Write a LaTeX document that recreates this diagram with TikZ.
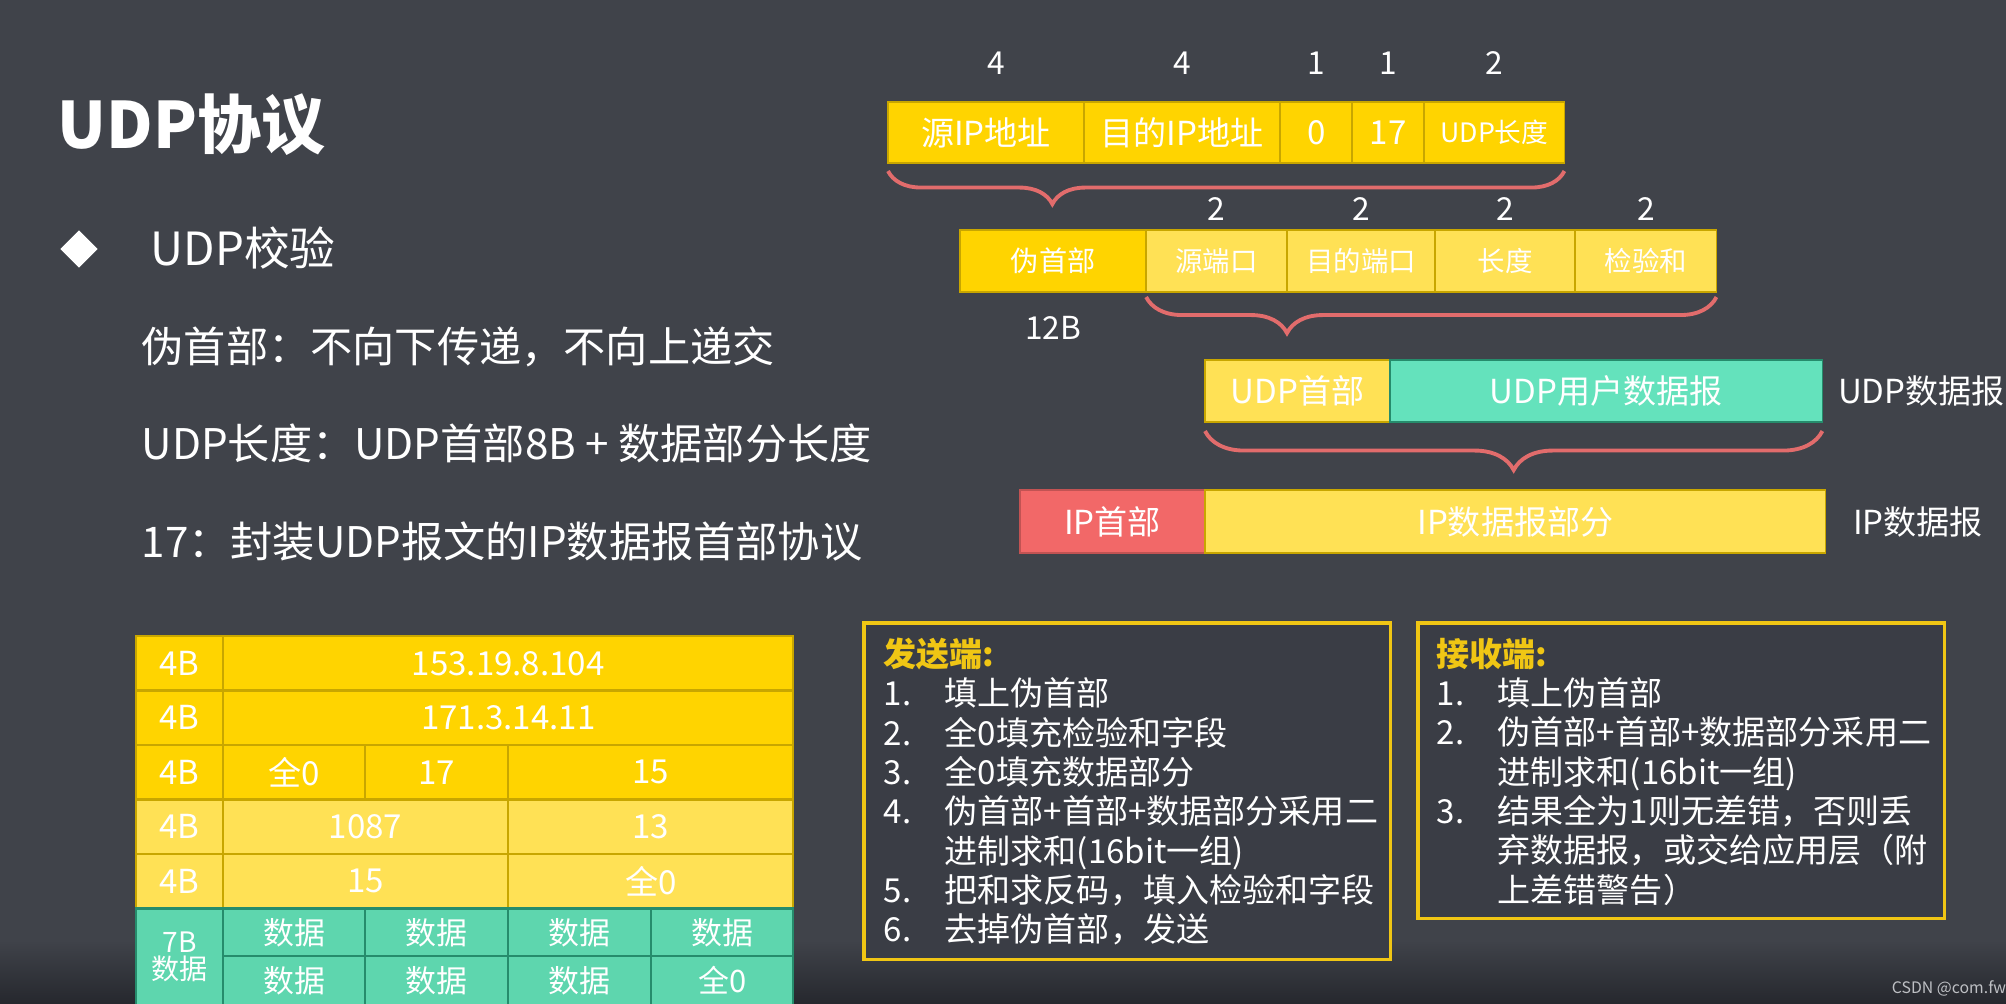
\documentclass[tikz,border=0pt]{standalone}
\usepackage{fontspec}
\setmainfont{Noto Sans CJK SC}
\usepackage{tikz}
\usetikzlibrary{positioning}
\usetikzlibrary{shapes.geometric}
\usetikzlibrary{decorations.pathreplacing}

\definecolor{bgslate}{RGB}{64,67,74}
\definecolor{bgdark}{RGB}{38,40,46}
\definecolor{gold}{RGB}{255,212,0}
\definecolor{lightgold}{RGB}{255,225,85}
\definecolor{mint}{RGB}{100,226,188}
\definecolor{tablemint}{RGB}{94,214,174}
\definecolor{salmon}{RGB}{242,104,104}
\definecolor{bracered}{RGB}{226,108,108}
\definecolor{goldline}{RGB}{200,166,0}
\definecolor{mintline}{RGB}{38,140,108}
\definecolor{hdrgold}{RGB}{240,198,20}
\definecolor{panelfill}{RGB}{58,61,69}
\definecolor{csdngray}{RGB}{190,192,196}

\newcommand{\stepline}[2]{\makebox[0.61cm][l]{#1}#2}
\newcommand{\contline}[1]{\hspace*{0.61cm}#1}

\begin{document}
\begin{tikzpicture}[x=0.01cm,y=-0.01cm,
    field/.style={draw=goldline,line width=0.5pt,inner sep=0pt,outer sep=0pt,anchor=north west,text=white,font=\fontsize{9.4pt}{11pt}\selectfont},
    num/.style={inner sep=0pt,text=white,font=\fontsize{9pt}{11pt}\selectfont},
    side/.style={inner sep=0pt,anchor=west,text=white,font=\fontsize{9.4pt}{11pt}\selectfont},
    body/.style={inner sep=0pt,anchor=west,text=white,font=\fontsize{12pt}{14pt}\selectfont},
    cell/.style={draw=goldline,line width=0.6pt,inner sep=0pt,outer sep=0pt,anchor=north west,minimum height=0.545cm,text=white,font=\fontsize{9.4pt}{11pt}\selectfont},
    mintcell/.style={cell,draw=mintline,fill=tablemint,minimum height=0.475cm,font=\fontsize{8.8pt}{10pt}\selectfont},
    brace/.style={draw=bracered,line width=1.1pt,decorate},
    panel/.style={draw=hdrgold,line width=0.9pt,fill=panelfill,inner sep=0pt,outer sep=0pt,anchor=north west},
    steps/.style={inner sep=0pt,anchor=north west,align=left,text=white,font=\fontsize{9.4pt}{11.2pt}\selectfont}]

  \useasboundingbox (0,0) rectangle (2006,1003);
  \fill[bgslate] (0,0) rectangle (2006,1003);
  \shade[top color=bgslate,bottom color=bgdark] (0,940) rectangle (2006,1003);

  \node[inner sep=0pt,anchor=west,text=white,font=\fontsize{18.2pt}{20pt}\selectfont\bfseries] (title) at (57,125) {UDP协议};
  \node[diamond,fill=white,inner sep=0pt,minimum width=0.38cm,minimum height=0.38cm] (bullet) at (79,249) {};
  \node[inner sep=0pt,anchor=west,text=white,font=\fontsize{13pt}{15pt}\selectfont] (check) at (150,248) {UDP校验};
  \node[body] (note1) at (141,347) {伪首部：不向下传递，不向上递交};
  \node[body] (note2) at (141,443) {UDP长度：UDP首部8B + 数据部分长度};
  \node[body] (note3) at (141,541) {17：封装UDP报文的IP数据报首部协议};

  \node[field,fill=gold,minimum width=1.96cm,minimum height=0.61cm] (srcip) at (888,102) {源IP地址};
  \node[field,fill=gold,minimum width=1.96cm,minimum height=0.61cm,right=0pt of srcip] (dstip) {目的IP地址};
  \node[field,fill=gold,minimum width=0.72cm,minimum height=0.61cm,right=0pt of dstip] (zero) {0};
  \node[field,fill=gold,minimum width=0.72cm,minimum height=0.61cm,right=0pt of zero] (proto) {17};
  \node[field,fill=gold,minimum width=1.40cm,minimum height=0.61cm,right=0pt of proto,font=\fontsize{7.6pt}{9pt}\selectfont] (udplen) {UDP长度};

  \node[num,above=0.27cm of srcip,xshift=0.1cm] (w1) {4};
  \node[num,above=0.27cm of dstip] (w2) {4};
  \node[num,above=0.27cm of zero] (w3) {1};
  \node[num,above=0.27cm of proto] (w4) {1};
  \node[num,above=0.27cm of udplen] (w5) {2};

  \draw[brace,decoration={brace,mirror,amplitude=0.33cm,aspect=0.243}] ([yshift=-0.08cm]srcip.south west) -- ([yshift=-0.08cm]udplen.south east);

  \node[field,fill=gold,minimum width=1.86cm,minimum height=0.62cm,font=\fontsize{8pt}{10pt}\selectfont] (pseudo) at (960,230) {伪首部};
  \node[field,fill=lightgold,minimum width=1.41cm,minimum height=0.62cm,right=0pt of pseudo,font=\fontsize{7.8pt}{10pt}\selectfont] (srcport) {源端口};
  \node[field,fill=lightgold,minimum width=1.48cm,minimum height=0.62cm,right=0pt of srcport,font=\fontsize{7.8pt}{10pt}\selectfont] (dstport) {目的端口};
  \node[field,fill=lightgold,minimum width=1.40cm,minimum height=0.62cm,right=0pt of dstport,font=\fontsize{7.8pt}{10pt}\selectfont] (len) {长度};
  \node[field,fill=lightgold,minimum width=1.41cm,minimum height=0.62cm,right=0pt of len,font=\fontsize{7.8pt}{10pt}\selectfont] (csum) {检验和};

  \node[num,above=0.09cm of srcport] (v1) {2};
  \node[num,above=0.09cm of dstport] (v2) {2};
  \node[num,above=0.09cm of len] (v3) {2};
  \node[num,above=0.09cm of csum] (v4) {2};
  \node[num,below=0.24cm of pseudo] (pseudolen) {12B};

  \draw[brace,decoration={brace,mirror,amplitude=0.36cm,aspect=0.247}] ([yshift=-0.05cm]srcport.south west) -- ([yshift=-0.05cm]csum.south east);

  \node[field,fill=lightgold,minimum width=1.85cm,minimum height=0.62cm] (udphdr) at (1205,360) {UDP首部};
  \node[field,fill=mint,draw=mintline,minimum width=4.32cm,minimum height=0.62cm,right=0pt of udphdr] (udpdata) {UDP用户数据报};
  \node[side,right=0.15cm of udpdata] (udpdg) {UDP数据报};

  \draw[brace,decoration={brace,mirror,amplitude=0.39cm,aspect=0.5}] ([yshift=-0.09cm]udphdr.south west) -- ([yshift=-0.09cm]udpdata.south east);

  \node[field,fill=salmon,draw=salmon!80!black,minimum width=1.85cm,minimum height=0.63cm] (iphdr) at (1020,490) {IP首部};
  \node[field,fill=lightgold,minimum width=6.20cm,minimum height=0.63cm,right=0pt of iphdr] (ipdata) {IP数据报部分};
  \node[side,right=0.27cm of ipdata] (ipdg) {IP数据报};

  \node[cell,fill=gold,minimum width=0.87cm] (r1a) at (136,636) {4B};
  \node[cell,fill=gold,minimum width=5.70cm,right=0pt of r1a] (r1b) {153.19.8.104};
  \node[cell,fill=gold,minimum width=0.87cm] (r2a) at (136,690.5) {4B};
  \node[cell,fill=gold,minimum width=5.70cm,right=0pt of r2a] (r2b) {171.3.14.11};
  \node[cell,fill=gold,minimum width=0.87cm] (r3a) at (136,745) {4B};
  \node[cell,fill=gold,minimum width=1.42cm,right=0pt of r3a] (r3b) {全0};
  \node[cell,fill=gold,minimum width=1.43cm,right=0pt of r3b] (r3c) {17};
  \node[cell,fill=gold,minimum width=2.85cm,right=0pt of r3c] (r3d) {15};
  \node[cell,fill=lightgold,minimum width=0.87cm] (r4a) at (136,799.5) {4B};
  \node[cell,fill=lightgold,minimum width=2.85cm,right=0pt of r4a] (r4b) {1087};
  \node[cell,fill=lightgold,minimum width=2.85cm,right=0pt of r4b] (r4c) {13};
  \node[cell,fill=lightgold,minimum width=0.87cm] (r5a) at (136,854) {4B};
  \node[cell,fill=lightgold,minimum width=2.85cm,right=0pt of r5a] (r5b) {15};
  \node[cell,fill=lightgold,minimum width=2.85cm,right=0pt of r5b] (r5c) {全0};

  \node[mintcell,minimum width=0.87cm,minimum height=0.96cm,align=center,font=\fontsize{8pt}{7.7pt}\selectfont] (r6a) at (136,908.5) {7B\\数据};
  \node[mintcell,minimum width=1.42cm] (r6b) at (223,908.5) {数据};
  \node[mintcell,minimum width=1.43cm,right=0pt of r6b] (r6c) {数据};
  \node[mintcell,minimum width=1.43cm,right=0pt of r6c] (r6d) {数据};
  \node[mintcell,minimum width=1.42cm,right=0pt of r6d] (r6e) {数据};
  \node[mintcell,minimum width=1.42cm,minimum height=0.49cm] (r7b) at (223,956) {数据};
  \node[mintcell,minimum width=1.43cm,minimum height=0.49cm,right=0pt of r7b] (r7c) {数据};
  \node[mintcell,minimum width=1.43cm,minimum height=0.49cm,right=0pt of r7c] (r7d) {数据};
  \node[mintcell,minimum width=1.42cm,minimum height=0.49cm,right=0pt of r7d] (r7e) {全0};

  \node[panel,minimum width=5.26cm,minimum height=3.36cm] (sender) at (864,623) {};
  \node[steps] (sendsteps) at (883,637) {\textcolor{hdrgold}{\bfseries 发送端:}\\
    \stepline{1.}{填上伪首部}\\
    \stepline{2.}{全0填充检验和字段}\\
    \stepline{3.}{全0填充数据部分}\\
    \stepline{4.}{伪首部+首部+数据部分采用二}\\
    \contline{进制求和(16bit一组)}\\
    \stepline{5.}{把和求反码，填入检验和字段}\\
    \stepline{6.}{去掉伪首部，发送}};

  \node[panel,minimum width=5.26cm,minimum height=2.95cm] (receiver) at (1418,623) {};
  \node[steps] (recvsteps) at (1436,637) {\textcolor{hdrgold}{\bfseries 接收端:}\\
    \stepline{1.}{填上伪首部}\\
    \stepline{2.}{伪首部+首部+数据部分采用二}\\
    \contline{进制求和(16bit一组)}\\
    \stepline{3.}{结果全为1则无差错，否则丢}\\
    \contline{弃数据报，或交给应用层（附}\\
    \contline{上差错警告）}};

  \node[inner sep=0pt,text=csdngray,font=\fontsize{4.5pt}{5pt}\selectfont] (csdn) at (1949,988) {CSDN @com.fw};
\end{tikzpicture}
\end{document}
